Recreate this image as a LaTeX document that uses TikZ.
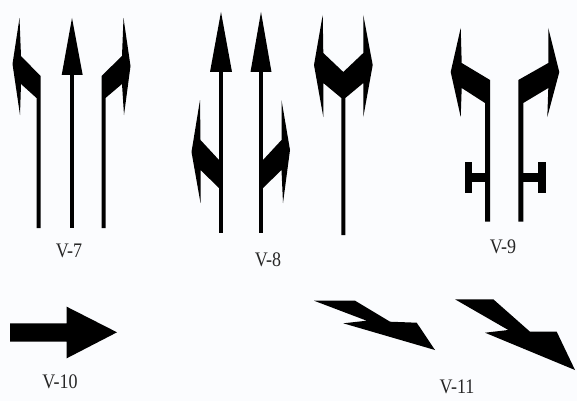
\documentclass[tikz,border=0pt]{standalone}
\usepackage{fontspec}
\setmainfont{Liberation Serif}
\usetikzlibrary{positioning}
\definecolor{paper}{RGB}{251,252,254}
\newcommand{\signlabel}[1]{\scalebox{1}[1.15]{#1}}

\begin{document}
\begin{tikzpicture}[
  x=1pt,y=-1pt,
  sign/.style={fill=black},
  lbl/.style={font=\fontsize{18}{18}\selectfont,text=black!85,inner sep=0pt}
]
\fill[paper] (0,0) rectangle (577,401);
\useasboundingbox (0,0) rectangle (577,401);

% V-7
\fill[sign] (19.5,18) -- (21,56) -- (40.5,76) -- (40.5,228) -- (36.5,228) -- (36.5,98)
  -- (21,84) -- (20,115) -- (12.5,64) -- cycle;
\fill[sign] (70,75) rectangle (74,228);
\fill[sign] (61.7,75) -- (82.7,75) -- (72,18) -- cycle;
\fill[sign] (123.5,18) -- (130.5,66) -- (124,115) -- (122,84) -- (105.5,98) -- (105.5,228)
  -- (101.5,228) -- (101.5,76) -- (122,56) -- cycle;
\node[lbl] (lblVseven) at (69,250.5) {\signlabel{V-7}};

% V-8
\fill[sign] (219,72) rectangle (223,233);
\fill[sign] (210,72) -- (232,72) -- (221,12) -- cycle;
\fill[sign] (259,72) rectangle (263,233);
\fill[sign] (250.5,72) -- (271.5,72) -- (261,12) -- cycle;
\fill[sign] (219,160) -- (200.5,140) -- (200,100) -- (191.5,152) -- (200.5,203) -- (200.5,170)
  -- (219,188) -- cycle;
\fill[sign] (263,160) -- (281.5,140) -- (281.5,100) -- (290,150) -- (283,203) -- (281.5,170)
  -- (263,188) -- cycle;
\fill[sign] (343.3,72) -- (323.3,53) -- (322.7,15) -- (314,65) -- (323.3,117) -- (323.3,83)
  -- (341.3,98) -- (341.3,235) -- (345.3,235) -- (345.3,98) -- (363.3,83) -- (363.3,117)
  -- (372.7,65) -- (363.3,15) -- (363.3,53) -- cycle;
\node[lbl] (lblVeight) at (268,260) {\signlabel{V-8}};

% V-9
\fill[sign] (490,80) -- (461.7,63) -- (460.7,28) -- (450.7,72) -- (460.7,117) -- (461.7,88)
  -- (485,103) -- (485,221.7) -- (490,221.7) -- cycle;
\fill[sign] (465,161.7) rectangle (471.7,193.3);
\fill[sign] (471.7,173.3) rectangle (485,181.7);
\fill[sign] (518.3,80) -- (548.3,63) -- (548.3,28) -- (559.3,72) -- (547.3,117) -- (548.3,88)
  -- (523.3,103) -- (523.3,221.7) -- (518.3,221.7) -- cycle;
\fill[sign] (538.3,161.7) rectangle (546,193.3);
\fill[sign] (523.3,173.3) rectangle (538.3,181.7);
\node[lbl] (lblVnine) at (503,247) {\signlabel{V-9}};

% V-10
\fill[sign] (10,323.3) -- (66.7,323.3) -- (66.7,306.7) -- (117,332.3) -- (66.7,358.3)
  -- (66.7,341.7) -- (10,341.7) -- cycle;
\node[lbl] (lblVten) at (60,381.5) {\signlabel{V-10}};

% V-11
\fill[sign] (314,300.7) -- (355,300.7) -- (390,321.7) -- (416.7,322.7) -- (435,350)
  -- (343.3,323.3) -- (366.7,320.7) -- cycle;
\fill[sign] (455,299.3) -- (493.3,299.3) -- (530,331.7) -- (556.7,331.7) -- (575,370)
  -- (485,332.7) -- (508.3,330) -- cycle;
\node[lbl] (lblVeleven) at (457,387) {\signlabel{V-11}};
\end{tikzpicture}
\end{document}
